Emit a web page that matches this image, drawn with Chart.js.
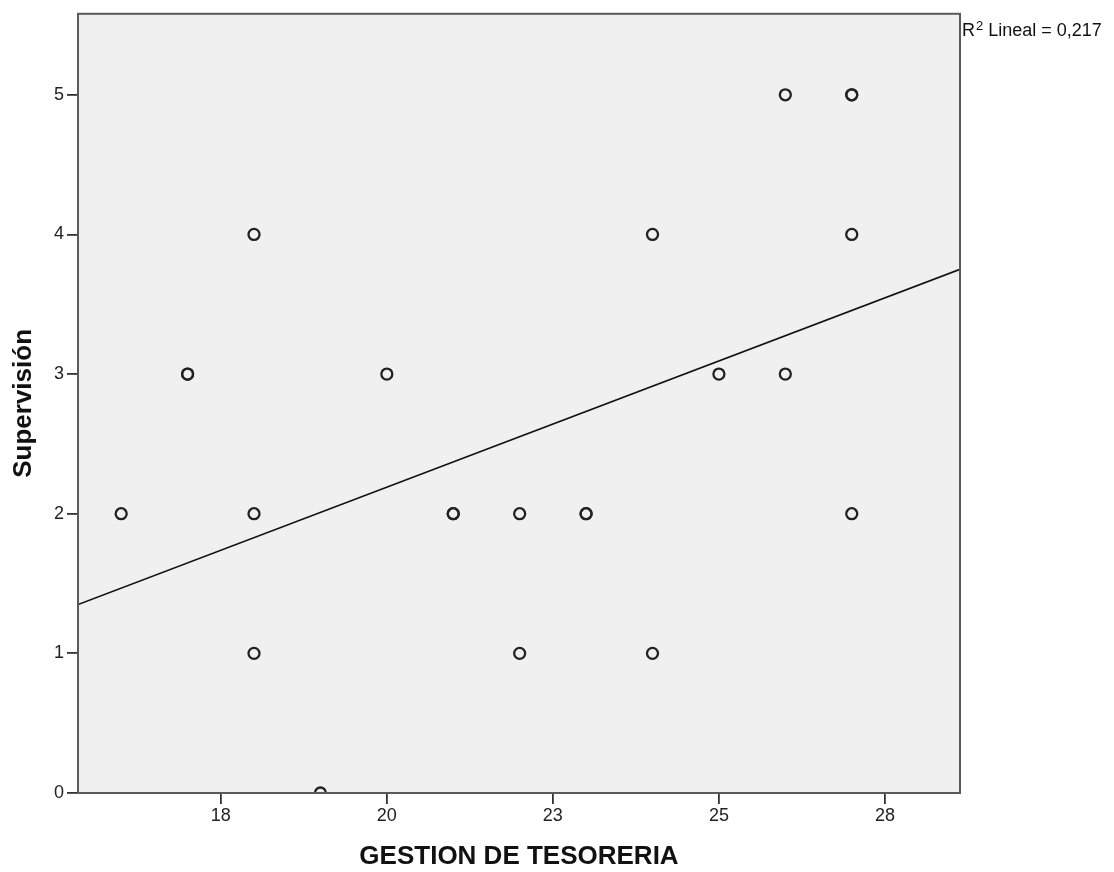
<!DOCTYPE html>
<html>
<head>
<meta charset="utf-8">
<script src="https://cdn.jsdelivr.net/npm/chart.js@4"></script>
<style>
    body { margin: 0; background: #fff; }
    #wrap { width: 1114px; height: 872px; }
</style>
</head>
<body>
<div id="wrap"><canvas id="scatter" width="1114" height="872"></canvas></div>
<script>
// --- DATA (overlapping cases listed twice) ---
const gestionTesoreria = [16, 17, 17, 18, 18, 18, 19, 20, 21, 21, 22, 22, 23, 23, 24, 24, 25, 26, 26, 27, 27, 27, 27];
const supervision      = [ 2,  3,  3,  4,  2,  1,  0,  3,  2,  2,  2,  1,  2,  2,  4,  1,  3,  5,  3,  5,  5,  4,  2];

// fit line end points (left and right edge of the plot)
const fitX = [15.35, 28.63];
const fitY = [1.35, 3.75];

const xTickValues = [17.5, 20, 22.5, 25, 27.5];
const xTickLabels = ['18', '20', '23', '25', '28'];
const yTickValues = [0, 1, 2, 3, 4, 5];
const r2Text = ' Lineal = 0,217';

const FONT = '"Liberation Sans", Arial, sans-serif';

// --- PLUGINS ---
const plotFrame = {
    id: 'plotFrame',
    beforeDatasetsDraw(chart) {
        const { ctx, chartArea: a } = chart;
        ctx.save();
        ctx.fillStyle = '#f0f0f0';
        ctx.fillRect(a.left, a.top, a.right - a.left, a.bottom - a.top);
        ctx.restore();
    },
    afterDraw(chart) {
        const { ctx, chartArea: a } = chart;
        ctx.save();
        ctx.strokeStyle = '#5a5a5a';
        ctx.lineWidth = 2;
        ctx.strokeRect(a.left, a.top, a.right - a.left, a.bottom - a.top);

        // R2 label at top right
        ctx.fillStyle = '#111';
        ctx.textBaseline = 'alphabetic';
        let x = a.right + 2;
        const y = 36;
        ctx.font = '18px ' + FONT;
        ctx.fillText('R', x, y);
        x += ctx.measureText('R').width + 1;
        ctx.font = '13px ' + FONT;
        ctx.fillText('2', x, y - 6);
        x += ctx.measureText('2').width;
        ctx.font = '18px ' + FONT;
        ctx.fillText(r2Text, x, y);
        ctx.restore();
    }
};

// --- CHART ---
const points = gestionTesoreria.map((v, i) => ({ x: v, y: supervision[i] }));
const fitLine = fitX.map((v, i) => ({ x: v, y: fitY[i] }));

new Chart(document.getElementById('scatter'), {
    type: 'scatter',
    data: {
        datasets: [{
            data: points,
            pointStyle: 'circle',
            pointRadius: 5.5,
            pointBorderWidth: 2.3,
            pointBorderColor: '#222',
            pointBackgroundColor: 'rgba(0,0,0,0)',
            clip: 0
        }, {
            type: 'line',
            data: fitLine,
            borderColor: '#111',
            borderWidth: 1.6,
            pointRadius: 0,
            fill: false,
            clip: 0
        }]
    },
    options: {
        responsive: false,
        animation: false,
        events: [],
        layout: { padding: { top: 10, right: 154, bottom: 0, left: 0 } },
        plugins: { legend: { display: false }, tooltip: { enabled: false } },
        scales: {
            x: {
                type: 'linear',
                min: 15.35,
                max: 28.63,
                afterBuildTicks: s => { s.ticks = xTickValues.map(v => ({ value: v })); },
                afterFit: s => { s.height = 79; },
                ticks: {
                    callback: (v, i) => xTickLabels[i],
                    font: { family: FONT, size: 18 },
                    color: '#222',
                    padding: 1,
                    maxRotation: 0
                },
                grid: { drawOnChartArea: false, drawTicks: true, tickLength: 11, color: '#333', lineWidth: 1.8 },
                border: { display: false },
                title: {
                    display: true,
                    text: 'GESTION DE TESORERIA',
                    font: { family: FONT, size: 26, weight: 'bold' },
                    color: '#111',
                    padding: { top: 0, bottom: 0 }
                }
            },
            y: {
                min: 0,
                max: 5.58,
                afterBuildTicks: s => { s.ticks = yTickValues.map(v => ({ value: v })); },
                afterFit: s => { s.width = 78; },
                ticks: {
                    font: { family: FONT, size: 18 },
                    color: '#222',
                    padding: 3
                },
                grid: { drawOnChartArea: false, drawTicks: true, tickLength: 11, color: '#333', lineWidth: 1.8 },
                border: { display: false },
                title: {
                    display: true,
                    text: 'Supervisión',
                    font: { family: FONT, size: 26, weight: 'bold' },
                    color: '#111',
                    padding: { top: 8, bottom: 0 }
                }
            }
        }
    },
    plugins: [plotFrame]
});
</script>
</body>
</html>
